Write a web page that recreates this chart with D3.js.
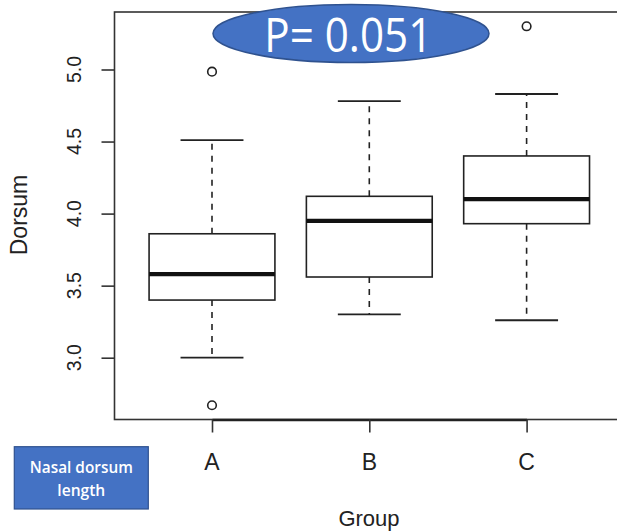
<!DOCTYPE html>
<html>
<head>
<meta charset="utf-8">
<script src="https://cdn.jsdelivr.net/npm/d3@7"></script>
<style>
  html, body { margin: 0; padding: 0; background: #fff; }
  svg { display: block; }
</style>
</head>
<body>
<svg id="chart" width="617" height="531"></svg>
<script>
// ---- data ----
const categories   = ["A", "B", "C"];
const lowerWhisker = [3.00, 3.30, 3.26];
const q1           = [3.40, 3.56, 3.93];
const median       = [3.58, 3.95, 4.10];
const q3           = [3.86, 4.12, 4.40];
const upperWhisker = [4.51, 4.78, 4.83];
const outliers     = [[4.985, 2.67], [], [5.30]];
const yTicks       = [3.0, 3.5, 4.0, 4.5, 5.0];
const yTickLabels  = ["3.0", "3.5", "4.0", "4.5", "5.0"];
const pLabel       = "P= 0.051";
const noteLines    = ["Nasal dorsum", "length"];
const xTitle       = "Group";
const yTitle       = "Dorsum";

const svg = d3.select("#chart");
const ink = "#222";

// ---- scales ----
const y = d3.scaleLinear().domain([3, 5]).range([357.7, 69.5]);
const x = d3.scalePoint().domain(categories).range([212, 526.6]);
const step = x.step();
const boxHalf = step * 0.4;
const stapleHalf = boxHalf * 0.5;

const frameLeft = 114.5, frameTop = 12, frameBottom = 419.5, frameRight = 624;

// ---- frame ----
svg.append("rect")
  .attr("x", frameLeft).attr("y", frameTop)
  .attr("width", frameRight - frameLeft).attr("height", frameBottom - frameTop)
  .attr("fill", "none").attr("stroke", "#333").attr("stroke-width", 1.6);

// ---- y axis ----
const yAxis = d3.axisLeft(y).tickValues(yTicks).tickSize(13).tickFormat("");
const gy = svg.append("g").attr("transform", `translate(${frameLeft},0)`).call(yAxis);
gy.select(".domain").remove();
gy.selectAll(".tick line").attr("stroke", "#333").attr("stroke-width", 1.6);

svg.append("g").selectAll("text").data(yTicks).join("text")
  .attr("transform", (d) => `translate(80.5,${y(d)}) rotate(-90)`)
  .attr("text-anchor", "middle")
  .attr("font-family", "Liberation Sans, Arial, sans-serif")
  .attr("font-size", 19.5)
  .attr("fill", ink)
  .text((d, i) => yTickLabels[i]);

// ---- x axis ----
const xAxis = d3.axisBottom(x).tickSize(13).tickSizeOuter(0).tickFormat("");
const gx = svg.append("g").attr("transform", `translate(0,${frameBottom})`).call(xAxis);
gx.select(".domain").attr("stroke", "#222").attr("stroke-width", 2.4);
gx.selectAll(".tick line").attr("stroke", "#333").attr("stroke-width", 1.6);

svg.append("g").selectAll("text").data(categories).join("text")
  .attr("x", (d) => x(d))
  .attr("y", 469.5)
  .attr("text-anchor", "middle")
  .attr("font-family", "Liberation Sans, Arial, sans-serif")
  .attr("font-size", 23)
  .attr("fill", ink)
  .text((d) => d);

// axis titles
svg.append("text")
  .attr("x", 369).attr("y", 525.7)
  .attr("text-anchor", "middle")
  .attr("font-family", "Liberation Sans, Arial, sans-serif")
  .attr("font-size", 22)
  .attr("fill", ink)
  .text(xTitle);

svg.append("text")
  .attr("transform", "translate(27,215) rotate(-90)")
  .attr("text-anchor", "middle")
  .attr("font-family", "Liberation Sans, Arial, sans-serif")
  .attr("font-size", 23)
  .attr("fill", ink)
  .text(yTitle);

// ---- boxes ----
const boxes = svg.append("g");
categories.forEach((c, i) => {
  const cx = x(c);
  const g = boxes.append("g");
  // whiskers (dashed)
  g.append("line").attr("x1", cx).attr("x2", cx)
    .attr("y1", y(q3[i])).attr("y2", y(upperWhisker[i]))
    .attr("stroke", ink).attr("stroke-width", 1.6).attr("stroke-dasharray", "6,6");
  g.append("line").attr("x1", cx).attr("x2", cx)
    .attr("y1", y(q1[i])).attr("y2", y(lowerWhisker[i]))
    .attr("stroke", ink).attr("stroke-width", 1.6).attr("stroke-dasharray", "6,6");
  // staples
  [upperWhisker[i], lowerWhisker[i]].forEach((v) => {
    g.append("line").attr("x1", cx - stapleHalf).attr("x2", cx + stapleHalf)
      .attr("y1", y(v)).attr("y2", y(v))
      .attr("stroke", ink).attr("stroke-width", 1.8);
  });
  // box
  g.append("rect")
    .attr("x", cx - boxHalf).attr("y", y(q3[i]))
    .attr("width", boxHalf * 2).attr("height", y(q1[i]) - y(q3[i]))
    .attr("fill", "#fff").attr("stroke", ink).attr("stroke-width", 1.6);
  // median
  g.append("line").attr("x1", cx - boxHalf).attr("x2", cx + boxHalf)
    .attr("y1", y(median[i])).attr("y2", y(median[i]))
    .attr("stroke", "#111").attr("stroke-width", 4.2);
  // outliers
  g.selectAll("circle").data(outliers[i]).join("circle")
    .attr("cx", cx).attr("cy", (d) => y(d)).attr("r", 4.3)
    .attr("fill", "none").attr("stroke", ink).attr("stroke-width", 1.6);
});

// ---- P value ellipse ----
svg.append("ellipse")
  .attr("cx", 351).attr("cy", 33.5).attr("rx", 138).attr("ry", 29)
  .attr("fill", "#4472C4").attr("stroke", "#2F528F").attr("stroke-width", 1.5);
svg.append("text")
  .attr("x", 264.3).attr("y", 51.7)
  .attr("font-family", "Open Sans, Lato, sans-serif")
  .attr("font-size", 47)
  .attr("fill", "#fff")
  .attr("textLength", 168)
  .attr("lengthAdjust", "spacingAndGlyphs")
  .text(pLabel);

// ---- note box ----
svg.append("rect")
  .attr("x", 14.3).attr("y", 446.7).attr("width", 134).attr("height", 62.3)
  .attr("fill", "#4472C4").attr("stroke", "#2F528F").attr("stroke-width", 1.2);
const noteY = [472.5, 495.5];
const noteW = [103, 48];
svg.append("g").selectAll("text").data(noteLines).join("text")
  .attr("x", (d, i) => 81.3 - noteW[i] / 2)
  .attr("y", (d, i) => noteY[i])
  .attr("font-family", "Open Sans, Lato, sans-serif")
  .attr("font-size", 16.5)
  .attr("font-weight", 600)
  .attr("fill", "#fff")
  .attr("textLength", (d, i) => noteW[i])
  .attr("lengthAdjust", "spacingAndGlyphs")
  .text((d) => d);
</script>
</body>
</html>
